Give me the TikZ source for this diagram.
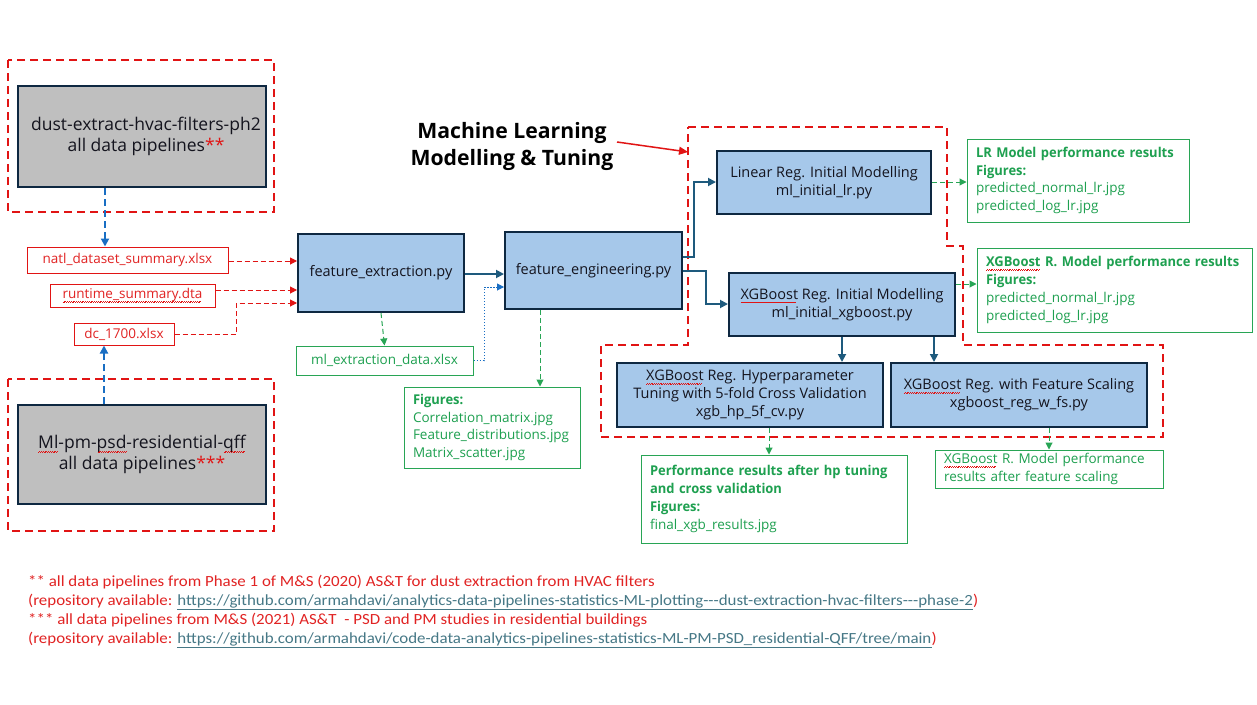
\documentclass[tikz,border=0pt]{standalone}
\usepackage{fontspec}
\setmainfont{Open Sans}
\newfontfamily\notefont{Carlito}[FakeStretch=1.09]
\newfontfamily\gbfont{Open Sans}[FakeStretch=0.96]
\usetikzlibrary{arrows.meta}
\definecolor{navy}{RGB}{14,40,65}
\definecolor{lblue}{RGB}{166,200,234}
\definecolor{boxgray}{RGB}{191,191,191}
\definecolor{rred}{RGB}{225,20,20}
\definecolor{rtext}{RGB}{225,35,35}
\definecolor{ggreen}{RGB}{40,165,85}
\definecolor{gtext}{RGB}{30,160,80}
\definecolor{flowblue}{RGB}{30,90,125}
\definecolor{midblue}{RGB}{25,110,195}
\definecolor{linkc}{RGB}{70,120,134}
\definecolor{dtext}{RGB}{20,20,30}
\newcommand{\gb}[1]{{\gbfont\bfseries #1}}
\newsavebox\sqbox
\newcommand{\sq}[1]{\sbox\sqbox{#1}\rlap{\usebox\sqbox}{\color{rred}\leaders\hbox{\rule[-3.6pt]{0.9pt}{0.55pt}\rule[-2.9pt]{0.9pt}{0.55pt}}\hskip\wd\sqbox}}
\begin{document}
\begin{tikzpicture}[x=1pt,y=-1pt,
  pybox/.style={draw=navy, fill=lblue, line width=2pt, align=center, inner sep=0pt, text=dtext, font=\fontsize{14.5}{18}\selectfont},
  graybox/.style={draw=navy, fill=boxgray, line width=2pt, align=center, inner sep=0pt, text=dtext, font=\fontsize{17.5}{21}\selectfont},
  filebox/.style={draw=rred, line width=1pt, text=rtext, inner sep=0pt, font=\fontsize{13.5}{16}\selectfont},
  outbox/.style={draw=ggreen, line width=1pt, text=gtext, align=left, inner xsep=9pt, inner ysep=0pt, font=\fontsize{13.5}{17.8}\selectfont},
  region/.style={draw=rred, line width=2.5pt, dash pattern=on 8pt off 5pt},
  redarrow/.style={draw=rred, line width=1pt, dash pattern=on 5pt off 3pt, -{Triangle[length=7pt,width=7pt]}},
  greenarrow/.style={draw=ggreen, line width=1pt, dash pattern=on 5pt off 3pt, -{Triangle[length=7pt,width=7pt]}},
  bluedash/.style={draw=midblue, line width=2.2pt, dash pattern=on 7pt off 4pt, -{Triangle[length=8pt,width=8pt]}},
  dotarrow/.style={draw=midblue, line width=1pt, dash pattern=on 1.5pt off 1.5pt, -{Triangle[length=7pt,width=7pt]}},
  flow/.style={draw=flowblue, line width=1.8pt, -{Triangle[length=8pt,width=8pt]}},
  titlearrow/.style={draw=rred, line width=1.5pt, -{Triangle[length=9pt,width=8pt]}},
  note/.style={align=left, inner sep=0pt, text=rtext, font=\notefont\fontsize{15.5}{19}\selectfont}
]
\useasboundingbox (0,0) rectangle (1257,704);
\fill[white] (0,0) rectangle (1257,704);

% dashed regions
\draw[region] (8,60) rectangle (274,212);
\draw[region] (8,379) rectangle (274,531);
\draw[region] (688,127) -- (947,127) -- (947,246) -- (963,246) -- (963,345) -- (1163,345) -- (1163,437) -- (601,437) -- (601,345) -- (688,345) -- cycle;

% gray boxes
\node[graybox, minimum width=248pt, minimum height=101pt] (g1) at (142,136.5) {\hspace{8pt}dust-extract-hvac-filters-ph2\\\hspace{8pt}all data pipelines\textcolor{rred}{**}};
\node[graybox, minimum width=248pt, minimum height=99pt] (g2) at (142,454.5) {\sq{Ml}-pm-\sq{psd}-residential-\sq{qff}\\all data pipelines\textcolor{rred}{***}};

% file boxes
\node[filebox, minimum width=201pt, minimum height=26pt] (natl) at (127.5,260) {natl\_dataset\_summary.xlsx};
\node[filebox, minimum width=165pt, minimum height=23pt] (rt) at (132.5,295.5) {\sq{runtime\_summary.dta}};
\node[filebox, minimum width=100pt, minimum height=22pt] (dc) at (124,334) {dc\_1700.xlsx};

% python boxes
\node[pybox, minimum width=166pt, minimum height=78pt] (fe) at (381,273) {feature\_extraction.py};
\node[pybox, minimum width=177pt, minimum height=77pt] (feng) at (593.5,270.5) {feature\_engineering.py};
\node[pybox, minimum width=214pt, minimum height=63pt] (lr) at (824,182.5) {Linear Reg. Initial Modelling\\ml\_initial\_lr.py};
\node[pybox, minimum width=226pt, minimum height=63pt] (xgbi) at (842,304.5) {\sq{XGBoost} Reg. Initial Modelling\\ml\_initial\_xgboost.py};
\node[pybox, minimum width=266pt, minimum height=64pt] (hp) at (750,395) {\sq{XGBoost} Reg. Hyperparameter\\Tuning with 5-fold Cross Validation\\xgb\_hp\_5f\_cv.py};
\node[pybox, minimum width=256pt, minimum height=64pt] (fs) at (1019,395) {\sq{XGBoost} Reg. with Feature Scaling\\xgboost\_reg\_w\_fs.py};

% output boxes
\node[outbox, align=center, inner xsep=0pt, minimum width=177pt, minimum height=29pt] (mlx) at (384.5,360.5) {ml\_extraction\_data.xlsx};
\node[outbox, minimum width=176pt, minimum height=81pt, text width=158pt] (figs) at (492,427.5) {\gb{Figures:}\\Correlation\_matrix.jpg\\Feature\_distributions.jpg\\Matrix\_scatter.jpg};
\node[outbox, minimum width=222pt, minimum height=83pt, text width=204pt] (lrout) at (1078,180.5) {\gb{LR Model performance results}\\\gb{Figures:}\\predicted\_normal\_lr.jpg\\predicted\_log\_lr.jpg};
\node[outbox, minimum width=275pt, minimum height=84pt, text width=257pt] (xgbout) at (1114.5,290) {\gb{\sq{XGBoost} R. Model performance results}\\\gb{Figures:}\\predicted\_normal\_lr.jpg\\predicted\_log\_lr.jpg};
\node[outbox, minimum width=266pt, minimum height=88pt, text width=248pt] (perf) at (774,499) {\gb{Performance results after hp tuning}\\\gb{and cross validation}\\\gb{Figures:}\\final\_xgb\_results.jpg};
\node[outbox, minimum width=228pt, minimum height=38pt, text width=210pt] (fsout) at (1049,469) {\sq{XGBoost} R. Model performance\\results after feature scaling};

% title
\node[align=center, font=\fontsize{21.2}{27}\selectfont\bfseries, text=black] (title) at (512,146) {Machine Learning\\Modelling \& Tuning};
\coordinate (titletail) at (617,142);
\coordinate (titletip) at (688,152);
\draw[titlearrow] (titletail) -- (titletip);

% footnotes
\node[note, anchor=north west] (notes) at (28,575) {** all data pipelines from Phase 1 of M\&S (2020) AS\&T for dust extraction from HVAC filters\\
(repository available: \textcolor{linkc}{\underline{https://github.com/armahdavi/analytics-data-pipelines-statistics-ML-plotting---dust-extraction-hvac-filters---phase-2}})\\
*** all data pipelines from M\&S (2021) AS\&T \ - PSD and PM studies in residential buildings\\
(repository available: \textcolor{linkc}{\underline{https://github.com/armahdavi/code-data-analytics-pipelines-statistics-ML-PM-PSD\_residential-QFF/tree/main}})};

% coordinates for connector routes
\coordinate (xa) at (105,0);
\coordinate (xb) at (104,0);
\coordinate (xc) at (236,0);
\coordinate (xd) at (484,0);
\coordinate (xe) at (540,0);
\coordinate (xf) at (694,0);
\coordinate (xg) at (706,0);
\coordinate (xh) at (842,0);
\coordinate (xi) at (934,0);
\coordinate (xj) at (769,0);
\coordinate (xk) at (1049,0);
\coordinate (ya) at (0,261);
\coordinate (yb) at (0,290);
\coordinate (yc) at (0,303);
\coordinate (yd) at (0,287);
\coordinate (ye) at (0,257);
\coordinate (yf) at (0,271);
\coordinate (yg) at (0,284);
\coordinate (yh) at (0,182);
\coordinate (yi) at (0,304);
\coordinate (yj) at (0,274);

% blue dashed from gray boxes
\draw[bluedash] (g1.south -| xa) -- (natl.north -| xa);
\draw[bluedash] (g2.north -| xb) -- (dc.south -| xb);

% red dashed into feature extraction
\draw[redarrow] (natl.east |- ya) -- (fe.west |- ya);
\draw[redarrow] (rt.east |- yb) -- (fe.west |- yb);
\draw[redarrow] (dc.east) -- (dc.east -| xc) -- (xc |- yc) -- (fe.west |- yc);

% main flow
\draw[flow] (fe.east |- yj) -- (feng.west |- yj);
\draw[dotarrow] (mlx.east) -- (mlx.east -| xd) -- (xd |- yd) -- (feng.west |- yd);
\draw[greenarrow] (fe.south) -- (mlx.north);
\draw[greenarrow] (feng.south -| xe) -- (figs.north -| xe);
\draw[flow] (feng.east |- ye) -- (xf |- ye) -- (xf |- yh) -- (lr.west |- yh);
\draw[flow] (feng.east |- yf) -- (xg |- yf) -- (xg |- yi) -- (xgbi.west |- yi);
\draw[greenarrow] (lr.east |- yh) -- (lrout.west |- yh);
\draw[greenarrow] (xgbi.east |- yg) -- (xgbout.west |- yg);
\draw[flow] (xgbi.south -| xh) -- (hp.north -| xh);
\draw[flow] (xgbi.south -| xi) -- (fs.north -| xi);
\draw[greenarrow] (hp.south -| xj) -- (perf.north -| xj);
\draw[greenarrow] (fs.south -| xk) -- (fsout.north -| xk);
\end{tikzpicture}
\end{document}
